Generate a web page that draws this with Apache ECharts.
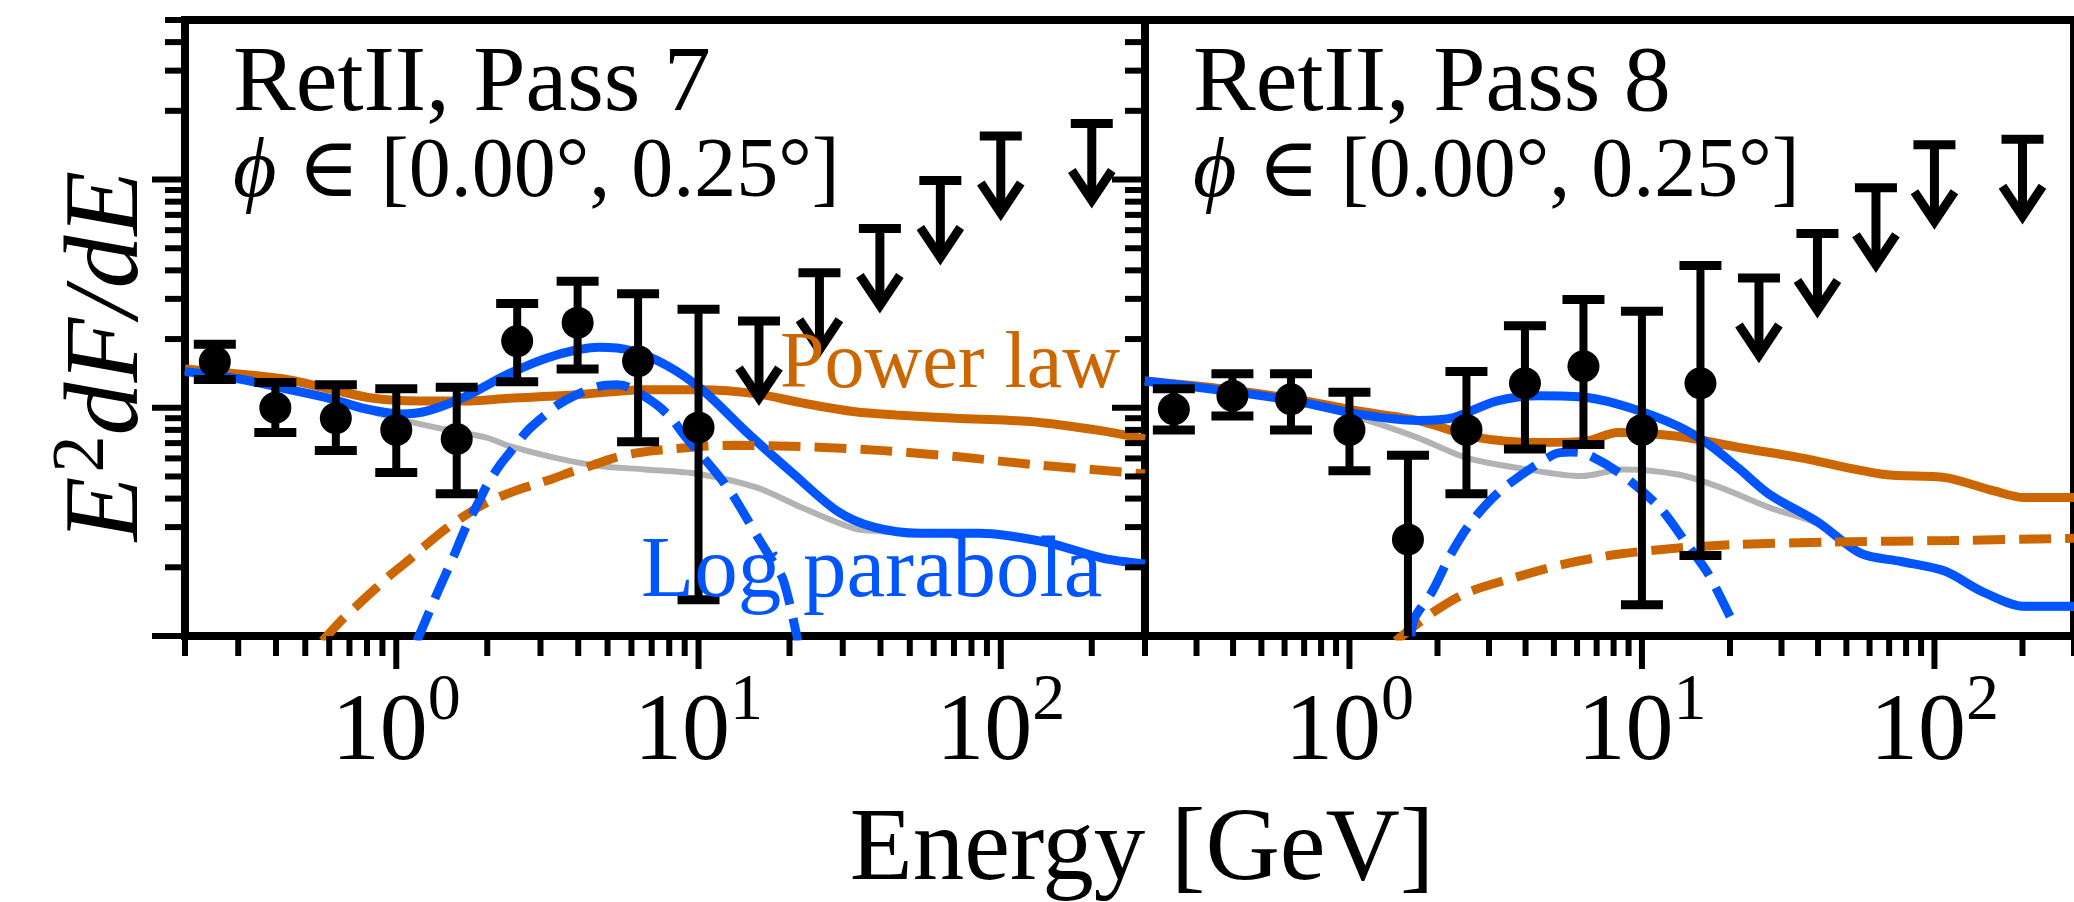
<!DOCTYPE html>
<html><head><meta charset="utf-8">
<script src="https://cdn.jsdelivr.net/npm/echarts@6/dist/echarts.min.js"></script>
<style>html,body{margin:0;padding:0;background:#fff;}#chart{width:2074px;height:902px;}</style>
</head><body><div id="chart"></div>
<script>
// ================= DATA =================
const xTickMajor = [1, 10, 100];
const xTickMinor = [0.2,0.3,0.4,0.5,0.6,0.7,0.8,0.9,2,3,4,5,6,7,8,9,20,30,40,50,60,70,80,90,200,300];
const yTickMajor = [1, 10, 100];
const yTickMinor = [2,3,4,5,6,7,8,9,20,30,40,50,60,70,80,90,200,300,400,500];
const xTickLabelBase = '10';
const xTickLabelExp = ['0', '1', '2'];

const panelTitles = ['RetII, Pass 7', 'RetII, Pass 8'];
const panelSubtitleSymbol = 'ϕ';
const panelSubtitleRest = ' ∈ [0.00°, 0.25°]';
const xAxisTitle = 'Energy [GeV]';
const yAxisTitleParts = ['E', '2', 'dF/dE'];
const powerLawLabel = 'Power law';
const logParabolaLabel = 'Log parabola';

// Pass 7 data points
const p7PointE = [0.251, 0.398, 0.631, 1.0, 1.585, 2.512, 3.981, 6.31, 10.0];
const p7Flux   = [15.9, 10.0, 9.0, 8.0, 7.3, 19.6, 23.6, 16.0, 8.2];
const p7Low    = [13.3, 7.8, 6.5, 5.2, 4.2, 13.0, 14.8, 7.1, 1.44];
const p7High   = [19.0, 12.9, 12.6, 12.1, 12.3, 28.6, 35.8, 31.6, 27.0];
const p7LimitE = [15.85, 25.12, 39.81, 63.1, 100.0, 200.0];
const p7Limit  = [24, 39, 61, 99, 155, 176];

// Pass 8 data points
const p8PointE = [0.251, 0.398, 0.631, 1.0, 1.585, 2.512, 3.981, 6.31, 10.0, 15.85];
const p8Flux   = [9.85, 11.3, 10.9, 8.0, 2.65, 8.0, 12.8, 15.2, 8.0, 12.8];
const p8Low    = [8.0, 9.2, 8.0, 5.3, 0.5, 4.2, 6.6, 6.9, 1.37, 2.25];
const p8High   = [12.1, 14.1, 14.1, 11.7, 6.2, 14.4, 22.9, 29.8, 26.5, 42.0];
const p8LimitE = [25.12, 39.81, 63.1, 100.0, 200.0];
const p8Limit  = [37, 58, 92, 142, 150];

// Pass 7 model curves [E, E^2 dF/dE]
const p7PowerLaw = [[0.2,14.8],[0.42,13.4],[0.6,12.1],[0.84,11.0],[1.19,10.7],[1.67,10.7],[2.36,11.0],[3.95,11.4],[6.6,12.0],[10.3,12.0],[15.6,11.5],[22,10.5],[33,9.6],[45,9.3],[71,9.0],[125,8.7],[219,7.9],[300,7.3]];
const p7LogParabola = [[0.2,14.4],[0.3,13.4],[0.42,12.2],[0.6,11.0],[0.79,9.9],[1.03,9.4],[1.27,9.7],[1.67,11.1],[2.36,14.1],[3.33,16.9],[4.7,18.4],[5.97,17.8],[7.87,15.3],[10.35,11.9],[14.6,7.7],[20.6,5.13],[29,3.5],[38,3.0],[54,2.82],[85,2.82],[140,2.58],[219,2.19],[300,2.07]];
const p7Background = [[0.2,14.4],[0.3,13.4],[0.42,12.2],[0.6,11.0],[0.79,9.8],[1.03,8.9],[1.41,8.1],[1.99,7.4],[2.36,6.8],[3.33,6.05],[4.7,5.56],[6.62,5.37],[10,5.13],[15.6,4.47],[22,3.65],[33,2.95],[40,2.88],[54,2.8],[85,2.8],[140,2.56],[219,2.17],[300,2.05]];
const p7PowerComp = [[0.57,0.95],[0.65,1.15],[0.76,1.4],[0.87,1.65],[0.97,1.88],[1.1,2.15],[1.23,2.45],[1.41,2.85],[1.62,3.25],[1.86,3.65],[2.13,4.0],[2.44,4.3],[2.85,4.6],[3.31,4.9],[3.82,5.25],[4.46,5.6],[5.2,6.0],[6.08,6.3],[7.2,6.5],[8.13,6.6],[10.7,6.8],[13.2,6.85],[18.6,6.8],[26,6.7],[40.7,6.49],[71.4,6.11],[125,5.66],[300,5.13]];
const p7LogParComp = [[1.17,0.95],[1.36,1.52],[1.54,2.2],[1.7,3.0],[1.86,3.8],[2.0,4.6],[2.2,5.6],[2.36,6.3],[2.71,7.9],[3.05,9.1],[3.39,10.2],[3.89,11.3],[4.68,12.4],[5.37,12.6],[5.89,12.3],[7.21,10.4],[8.13,9.0],[9.02,7.5],[10.0,6.4],[11.7,5.0],[12.7,4.3],[13.2,4.0],[14.6,3.2],[15.6,2.75],[17.3,2.2],[19.1,1.75],[21.3,0.95]];

// Pass 8 model curves
const p8PowerLaw = [[0.2,13.1],[0.37,12.1],[0.656,10.9],[1.06,9.7],[1.71,8.8],[2.75,7.4],[4.44,7.05],[6.5,7.16],[8.26,7.8],[13.3,7.5],[21.5,6.7],[34.6,6.05],[67.6,5.1],[109,4.94],[160,4.32],[203,4.04],[300,4.04]];
const p8LogParabola = [[0.2,13.1],[0.37,11.9],[0.656,10.7],[1.06,9.4],[1.71,8.8],[2.27,9.06],[3.18,10.7],[4.44,11.3],[6.5,11.1],[9.1,10.0],[13.3,8.3],[16.9,6.92],[21.5,5.4],[27.3,4.17],[40,3.15],[56,2.3],[77,2.12],[109,1.92],[145,1.57],[203,1.35],[300,1.35]];
const p8Background = [[0.2,13.1],[0.37,11.9],[0.656,10.7],[1.06,9.1],[1.71,7.4],[2.5,6.05],[4.04,5.37],[6.2,5.02],[8.67,5.37],[13.3,5.1],[18.6,4.47],[27.3,3.65],[40,3.1],[56,2.28],[77,2.1],[109,1.9],[145,1.55],[203,1.33],[300,1.33]];
const p8PowerComp = [[1.44,0.95],[1.88,1.24],[2.5,1.54],[3.66,1.8],[5.37,2.06],[8.26,2.28],[13.3,2.43],[21.5,2.52],[44,2.58],[114,2.62],[300,2.68]];
const p8LogParComp = [[1.62,1.0],[1.67,1.2],[1.92,1.57],[2.22,2.28],[2.62,3.18],[3.33,4.4],[5.0,6.25],[5.7,6.4],[6.5,6.25],[8.67,5.02],[11.5,3.65],[14.3,2.51],[16.9,1.86],[20.5,1.14]];

// ================= STYLE / LAYOUT =================
const X_MIN = 0.2, X_MAX = 300, Y_MIN = 1, Y_MAX = 500;
const GRID_TOP = 20, GRID_H = 616, PANEL_W = 960, PANEL_LEFT = [185, 1145];
const ORANGE = '#cc6600', BLUE = '#0055ff', GREY = '#b3b3b3', BLACK = '#000';
const SERIF = '"Liberation Serif", "DejaVu Serif", serif';
const FRAME_W = 8, TICK_W = 6, MAJ_LEN = 33, MIN_LEN = 20;
const EB_W = 8, CAP_HALF = 21, CAP_W = 9, MARK_R = 16;
const ARROW_FRAC = 0.46, ARROW_W = 9, HEAD_HALF = 20, HEAD_H = 30;
const CURVE_W = 9, GREY_W = 6, DASH = [32, 14];

const measureCtx = document.createElement('canvas').getContext('2d');
function textWidth(txt, size, style) {
  measureCtx.font = (style || 'normal') + ' ' + size + 'px ' + SERIF;
  return measureCtx.measureText(txt).width;
}
function midY(baseline, size) { return baseline - 0.3375 * size; }

function lineSeries(i, data, color, width, type, z) {
  return {
    type: 'line', xAxisIndex: i, yAxisIndex: i, data: data,
    showSymbol: false, symbol: 'none', smooth: 0.3, silent: true, z: z,
    lineStyle: { color: color, width: width, type: type, cap: 'butt' }
  };
}

function errorSeries(i, E, flux, low, high) {
  return {
    type: 'custom', xAxisIndex: i, yAxisIndex: i, z: 10, silent: true,
    data: E.map((e, k) => [e, flux[k], low[k], high[k]]),
    renderItem: function (params, api) {
      const cs = params.coordSys; const bottom = cs.y + cs.height;
      const e = api.value(0);
      const c = api.coord([e, api.value(1)]);
      const lo = api.coord([e, api.value(2)]);
      const hi = api.coord([e, api.value(3)]);
      const loY = Math.min(lo[1], bottom);
      const st = { stroke: BLACK, lineWidth: EB_W };
      const cst = { stroke: BLACK, lineWidth: CAP_W };
      const ch = [
        { type: 'line', shape: { x1: c[0], y1: hi[1], x2: c[0], y2: loY }, style: st },
        { type: 'line', shape: { x1: c[0] - CAP_HALF, y1: hi[1], x2: c[0] + CAP_HALF, y2: hi[1] }, style: cst }
      ];
      if (lo[1] < bottom) ch.push({ type: 'line', shape: { x1: c[0] - CAP_HALF, y1: lo[1], x2: c[0] + CAP_HALF, y2: lo[1] }, style: cst });
      ch.push({ type: 'circle', shape: { cx: c[0], cy: c[1], r: MARK_R }, style: { fill: BLACK } });
      return { type: 'group', children: ch };
    }
  };
}

function limitSeries(i, E, ul) {
  return {
    type: 'custom', xAxisIndex: i, yAxisIndex: i, z: 10, silent: true,
    data: E.map((e, k) => [e, ul[k]]),
    renderItem: function (params, api) {
      const e = api.value(0), u = api.value(1);
      const c = api.coord([e, u]);
      const t = api.coord([e, u * ARROW_FRAC]);
      const st = { stroke: BLACK, lineWidth: ARROW_W, fill: null };
      return { type: 'group', children: [
        { type: 'line', shape: { x1: c[0], y1: c[1], x2: c[0], y2: t[1] - 4 }, style: st },
        { type: 'line', shape: { x1: c[0] - CAP_HALF, y1: c[1], x2: c[0] + CAP_HALF, y2: c[1] }, style: { stroke: BLACK, lineWidth: CAP_W } },
        { type: 'polyline', shape: { points: [[c[0] - HEAD_HALF, t[1] - HEAD_H], [c[0], t[1]], [c[0] + HEAD_HALF, t[1] - HEAD_H]] }, style: st }
      ]};
    }
  };
}

function tickSeries(i) {
  const data = [];
  xTickMajor.forEach(v => data.push([v, Y_MIN, 0, 1]));
  xTickMinor.forEach(v => data.push([v, Y_MIN, 0, 0]));
  yTickMajor.forEach(v => data.push([X_MIN, v, 1, 1]));
  yTickMinor.forEach(v => data.push([X_MIN, v, 1, 0]));
  return {
    type: 'custom', xAxisIndex: i, yAxisIndex: i, z: 20, silent: true, clip: false,
    data: data,
    renderItem: function (params, api) {
      const p = api.coord([api.value(0), api.value(1)]);
      const len = api.value(3) ? MAJ_LEN : MIN_LEN;
      const isY = api.value(2);
      const shape = isY ? { x1: p[0], y1: p[1], x2: p[0] - len, y2: p[1] }
                        : { x1: p[0], y1: p[1], x2: p[0], y2: p[1] + len };
      return { type: 'line', shape: shape, style: { stroke: BLACK, lineWidth: TICK_W } };
    }
  };
}

const TL_SIZE = 96, TL_SUP = 66, TL_BASELINE = 766, TL_SUP_BASELINE = 724;
function tickLabelSeries(i) {
  return {
    type: 'custom', xAxisIndex: i, yAxisIndex: i, z: 20, silent: true, clip: false,
    data: xTickMajor.map((v, k) => [v, Y_MIN, k]),
    renderItem: function (params, api) {
      const p = api.coord([api.value(0), api.value(1)]);
      const exp = xTickLabelExp[api.value(2)];
      const w1 = textWidth(xTickLabelBase, TL_SIZE), w2 = textWidth(exp, TL_SUP);
      const x0 = p[0] - (w1 + w2) / 2;
      return { type: 'group', children: [
        { type: 'text', x: x0, y: midY(TL_BASELINE, TL_SIZE), style: { text: xTickLabelBase, fill: BLACK, fontSize: TL_SIZE, fontFamily: SERIF, align: 'left', verticalAlign: 'middle' } },
        { type: 'text', x: x0 + w1, y: midY(TL_SUP_BASELINE, TL_SUP), style: { text: exp, fill: BLACK, fontSize: TL_SUP, fontFamily: SERIF, align: 'left', verticalAlign: 'middle' } }
      ]};
    }
  };
}

// ================= GRAPHIC TEXT =================
const T1_SIZE = 94, T2_SIZE = 84, PL_SIZE = 80, LP_SIZE = 87;
const graphics = [];
[0, 1].forEach(i => {
  const x0 = PANEL_LEFT[i] + 48;
  graphics.push({ type: 'text', x: x0, y: midY(117, T1_SIZE), z: 50, style: { text: panelTitles[i], fill: BLACK, fontSize: T1_SIZE, fontFamily: SERIF, align: 'left', verticalAlign: 'middle' } });
  const wphi = textWidth(panelSubtitleSymbol, T2_SIZE, 'italic');
  graphics.push({ type: 'text', x: x0, y: midY(202, T2_SIZE), z: 50, style: { text: panelSubtitleSymbol, fill: BLACK, fontSize: T2_SIZE, fontStyle: 'italic', fontFamily: SERIF, align: 'left', verticalAlign: 'middle' } });
  graphics.push({ type: 'text', x: x0 + wphi, y: midY(202, T2_SIZE), z: 50, style: { text: panelSubtitleRest, fill: BLACK, fontSize: T2_SIZE, fontFamily: SERIF, align: 'left', verticalAlign: 'middle' } });
});
graphics.push({ type: 'text', x: 780, y: midY(393, PL_SIZE), z: 50, style: { text: powerLawLabel, fill: ORANGE, fontSize: PL_SIZE, fontFamily: SERIF, align: 'left', verticalAlign: 'middle' } });
graphics.push({ type: 'text', x: 641, y: midY(603, LP_SIZE), z: 50, style: { text: logParabolaLabel, fill: BLUE, fontSize: LP_SIZE, fontFamily: SERIF, align: 'left', verticalAlign: 'middle' } });
const XL_SIZE = 103;
graphics.push({ type: 'text', x: 1142, y: midY(887, XL_SIZE), z: 50, style: { text: xAxisTitle, fill: BLACK, fontSize: XL_SIZE, fontFamily: SERIF, align: 'center', verticalAlign: 'middle' } });
// rotated y label
const YL_SIZE = 106, YL_SUP = 74;
const wE = textWidth(yAxisTitleParts[0], YL_SIZE, 'italic');
const w2 = textWidth(yAxisTitleParts[1], YL_SUP);
const wR = textWidth(yAxisTitleParts[2], YL_SIZE, 'italic');
const L = wE + w2 + wR;
graphics.push({ type: 'group', x: 145, y: 358, rotation: Math.PI / 2, z: 50, children: [
  { type: 'text', x: -L / 2, y: -0.3375 * YL_SIZE, style: { text: yAxisTitleParts[0], fill: BLACK, fontSize: YL_SIZE, fontStyle: 'italic', fontFamily: SERIF, align: 'left', verticalAlign: 'middle' } },
  { type: 'text', x: -L / 2 + wE + 4, y: -0.3375 * YL_SUP - 36, style: { text: yAxisTitleParts[1], fill: BLACK, fontSize: YL_SUP, fontFamily: SERIF, align: 'left', verticalAlign: 'middle' } },
  { type: 'text', x: -L / 2 + wE + w2 + 4, y: -0.3375 * YL_SIZE, style: { text: yAxisTitleParts[2], fill: BLACK, fontSize: YL_SIZE, fontStyle: 'italic', fontFamily: SERIF, align: 'left', verticalAlign: 'middle' } }
]});

// ================= OPTION =================
function hiddenAxis(i, min, max) {
  return { type: 'log', logBase: 10, gridIndex: i, min: min, max: max,
    axisLine: { show: false }, axisTick: { show: false }, axisLabel: { show: false }, splitLine: { show: false } };
}
const panels = [
  { pts: [p7PointE, p7Flux, p7Low, p7High], lim: [p7LimitE, p7Limit], pl: p7PowerLaw, lp: p7LogParabola, bg: p7Background, plc: p7PowerComp, lpc: p7LogParComp },
  { pts: [p8PointE, p8Flux, p8Low, p8High], lim: [p8LimitE, p8Limit], pl: p8PowerLaw, lp: p8LogParabola, bg: p8Background, plc: p8PowerComp, lpc: p8LogParComp }
];
const series = [];
panels.forEach((d, i) => {
  series.push(lineSeries(i, d.bg, GREY, GREY_W, 'solid', 2));
  series.push(lineSeries(i, d.pl, ORANGE, CURVE_W, 'solid', 3));
  series.push(lineSeries(i, d.lp, BLUE, CURVE_W, 'solid', 4));
  series.push(lineSeries(i, d.plc, ORANGE, CURVE_W, DASH, 5));
  series.push(lineSeries(i, d.lpc, BLUE, CURVE_W, DASH, 5));
  series.push(errorSeries(i, d.pts[0], d.pts[1], d.pts[2], d.pts[3]));
  series.push(limitSeries(i, d.lim[0], d.lim[1]));
  series.push(tickSeries(i));
  series.push(tickLabelSeries(i));
});

const option = {
  animation: false,
  backgroundColor: '#fff',
  grid: PANEL_LEFT.map(l => ({ left: l, top: GRID_TOP, width: PANEL_W, height: GRID_H, show: true, borderColor: BLACK, borderWidth: FRAME_W, backgroundColor: 'transparent', containLabel: false })),
  xAxis: [hiddenAxis(0, X_MIN, X_MAX), hiddenAxis(1, X_MIN, X_MAX)],
  yAxis: [hiddenAxis(0, Y_MIN, Y_MAX), hiddenAxis(1, Y_MIN, Y_MAX)],
  series: series,
  graphic: graphics
};
const chart = echarts.init(document.getElementById('chart'), null, { renderer: 'canvas' });
chart.setOption(option);
</script></body></html>
